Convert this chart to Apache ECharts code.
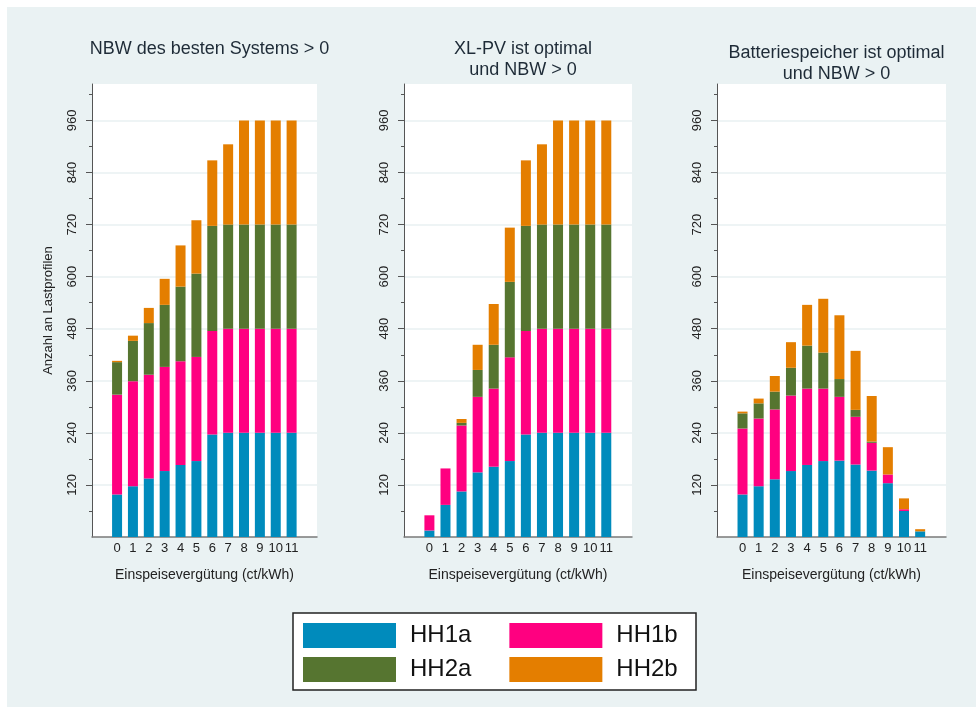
<!DOCTYPE html>
<html>
<head>
<meta charset="utf-8">
<script src="https://cdn.jsdelivr.net/npm/echarts@6/dist/echarts.min.js"></script>
<style>
  html, body { margin: 0; padding: 0; background: #fff; }
  #main { width: 976px; height: 710px; }
</style>
</head>
<body>
<div id="main"></div>
<script>
// Einspeisevergütung in ct/kWh (x-Achse)
const tarif = [0, 1, 2, 3, 4, 5, 6, 7, 8, 9, 10, 11];
const yTicks = [120, 240, 360, 480, 600, 720, 840, 960];
const seriesNames = ['HH1a', 'HH1b', 'HH2a', 'HH2b'];
const panelTitles = [
    'NBW des besten Systems > 0',
    'XL-PV ist optimal\nund NBW > 0',
    'Batteriespeicher ist optimal\nund NBW > 0'
];

// Panel 1: NBW des besten Systems > 0
const p1HH1a = [98, 117, 135, 152, 166, 175, 236, 240, 240, 240, 240, 240];
const p1HH1b = [230, 242, 239, 240, 239, 240, 239, 240, 240, 240, 240, 240];
const p1HH2a = [75, 93, 119, 143, 172, 192, 242, 240, 240, 240, 240, 240];
const p1HH2b = [3, 12, 35, 60, 95, 123, 151, 185, 240, 240, 240, 240];

// Panel 2: XL-PV ist optimal
const p2HH1a = [15, 74, 105, 149, 162, 175, 236, 240, 240, 240, 240, 240];
const p2HH1b = [35, 84, 152, 174, 180, 239, 239, 240, 240, 240, 240, 240];
const p2HH2a = [0, 0, 6, 62, 101, 174, 242, 240, 240, 240, 240, 240];
const p2HH2b = [0, 0, 9, 58, 94, 125, 151, 185, 240, 240, 240, 240];

// Panel 3: Batteriespeicher ist optimal
const p3HH1a = [98, 117, 133, 152, 166, 175, 176, 167, 153, 124, 60, 13];
const p3HH1b = [152, 156, 161, 174, 176, 167, 147, 110, 64, 20, 4, 0];
const p3HH2a = [35, 35, 41, 64, 99, 83, 41, 16, 3, 0, 0, 0];
const p3HH2b = [4, 11, 36, 59, 94, 124, 147, 136, 105, 63, 25, 5];

const panelData = [
    [p1HH1a, p1HH1b, p1HH2a, p1HH2b],
    [p2HH1a, p2HH1b, p2HH2a, p2HH2b],
    [p3HH1a, p3HH1b, p3HH2a, p3HH2b]
];

const colors = ['#008bbc', '#ff0080', '#567530', '#e47e00'];
const font = 'Liberation Sans, Arial, sans-serif';

// Layout der drei Panels
const panels = [
    { left: 92, width: 225, titleTop: 34 },
    { left: 404, width: 228, titleTop: 34 },
    { left: 717, width: 229, titleTop: 38 }
];
const gridTop = 84;
const gridHeight = 453;

document.addEventListener('DOMContentLoaded', function() {
    initChart();
});

// Wert zuerst, damit gestapelt wird; x-Position über encode
function buildSeries(p) {
    return seriesNames.map(function(name, k) {
        return {
            name: name,
            type: 'bar',
            stack: 'panel' + p,
            xAxisIndex: p,
            yAxisIndex: p,
            barWidth: 10,
            encode: { x: 1, y: 0 },
            itemStyle: { color: colors[k] },
            data: tarif.map(function(t, j) {
                return [panelData[p][k][j], t];
            })
        };
    });
}

function initChart() {
    const chartDom = document.getElementById('main');
    const myChart = echarts.init(chartDom);

    const grids = [];
    const xAxes = [];
    const yAxes = [];
    const titles = [];
    let series = [];

    panels.forEach(function(pn, p) {
        grids.push({
            left: pn.left,
            top: gridTop,
            width: pn.width,
            height: gridHeight,
            show: true,
            backgroundColor: '#fff',
            borderWidth: 0
        });
        titles.push({
            text: panelTitles[p],
            left: pn.left + pn.width / 2,
            top: pn.titleTop,
            textAlign: 'center',
            textStyle: {
                fontFamily: font,
                fontSize: 18,
                fontWeight: 'normal',
                color: '#1e2b37',
                lineHeight: 21
            }
        });
        xAxes.push({
            gridIndex: p,
            type: 'value',
            min: -1.58,
            max: 12.6,
            name: 'Einspeisevergütung (ct/kWh)',
            nameLocation: 'middle',
            nameGap: 31,
            nameTextStyle: { fontFamily: font, fontSize: 14, color: '#222' },
            axisLine: { onZero: false, lineStyle: { color: '#7a7a7a', width: 1.5 } },
            axisTick: { show: false },
            splitLine: { show: false },
            axisLabel: {
                customValues: tarif,
                margin: 5,
                fontFamily: font,
                fontSize: 13,
                color: '#222'
            }
        });
        yAxes.push({
            gridIndex: p,
            type: 'value',
            min: 0,
            max: 1044,
            interval: 120,
            name: p === 0 ? 'Anzahl an Lastprofilen' : '',
            nameLocation: 'middle',
            nameGap: 37,
            nameRotate: 90,
            nameTextStyle: { fontFamily: font, fontSize: 13, color: '#222' },
            axisLine: { show: true, onZero: false, lineStyle: { color: '#555', width: 1 } },
            axisTick: {
                show: true,
                length: 6,
                customValues: yTicks,
                lineStyle: { color: '#555' }
            },
            minorTick: {
                show: true,
                splitNumber: 2,
                length: 3,
                lineStyle: { color: '#555' }
            },
            splitLine: { show: true, lineStyle: { color: '#e8f0f2', width: 1.5 } },
            axisLabel: {
                customValues: yTicks,
                rotate: 90,
                margin: 13,
                fontFamily: font,
                fontSize: 13,
                color: '#222'
            }
        });
        series = series.concat(buildSeries(p));
    });

    const legendCommon = {
        orient: 'horizontal',
        icon: 'rect',
        padding: 0,
        itemWidth: 93,
        itemHeight: 25,
        itemGap: 38,
        selectedMode: false,
        textStyle: {
            fontFamily: font,
            fontSize: 24,
            color: '#111',
            padding: [0, 0, 0, 9]
        }
    };

    const option = {
        backgroundColor: '#fff',
        animation: false,
        graphic: [
            {
                type: 'rect',
                z: -10,
                shape: { x: 7, y: 7, width: 969, height: 700 },
                style: { fill: '#eaf2f3' }
            },
            {
                type: 'rect',
                z: 1,
                shape: { x: 293, y: 613, width: 403, height: 77 },
                style: { fill: '#fff', stroke: '#222', lineWidth: 1.5 }
            }
        ],
        title: titles,
        legend: [
            Object.assign({}, legendCommon, { data: ['HH1a', 'HH1b'], left: 303, top: 623 }),
            Object.assign({}, legendCommon, { data: ['HH2a', 'HH2b'], left: 303, top: 657 })
        ],
        grid: grids,
        xAxis: xAxes,
        yAxis: yAxes,
        series: series
    };

    myChart.setOption(option);
}
</script>
</body>
</html>
